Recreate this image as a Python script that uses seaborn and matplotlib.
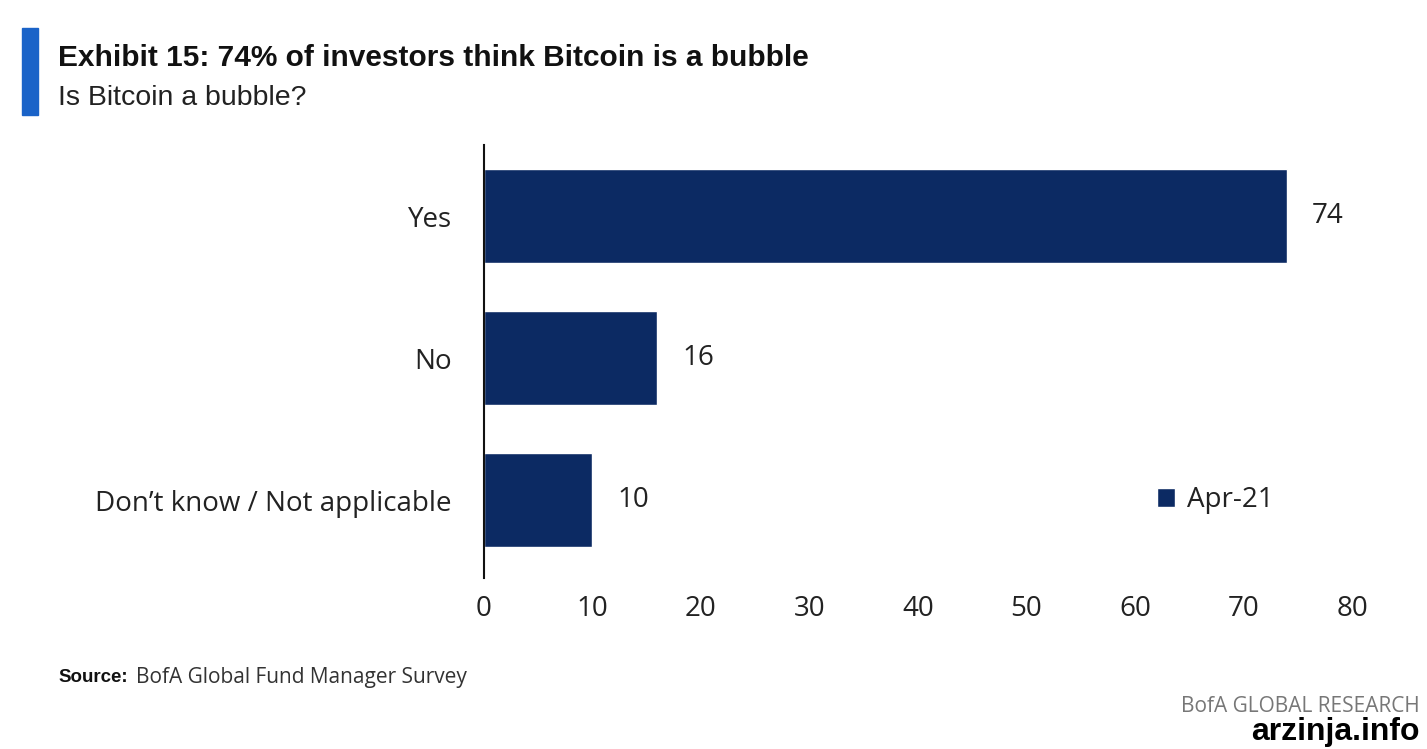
import pandas as pd
import numpy as np
import matplotlib
matplotlib.use('Agg')
import matplotlib.pyplot as plt
import seaborn as sns
from matplotlib.patches import Rectangle

categories = ['Yes', 'No', 'Don\u2019t know / Not applicable']
values = [74, 16, 10]
series_name = 'Apr-21'
x_ticks = [0, 10, 20, 30, 40, 50, 60, 70, 80]

navy = '#0c2a63'

df = pd.DataFrame({'answer': categories, 'pct': values, 'period': series_name})

sns.set_style('white')
plt.rcParams['font.family'] = ['Open Sans', 'DejaVu Sans']

fig = plt.figure(figsize=(14.27, 7.49), dpi=100)
ax = fig.add_axes([0.339, 0.228, 0.6085, 0.578])

sns.barplot(data=df, y='answer', x='pct', hue='period', palette=[navy],
            width=0.66, ax=ax, orient='h', saturation=1)

# value labels right of bars
for c in ax.containers:
    ax.bar_label(c, fmt='%d', padding=18, fontsize=20, color='#222222')

ax.set_xlim(0, 80)
ax.set_ylim(2.55, -0.5)
ax.set_xticks(x_ticks)
ax.tick_params(axis='x', labelsize=20, colors='#222222', length=0, pad=12)
ax.tick_params(axis='y', labelsize=20, colors='#222222', length=0, pad=23)
ax.set_xlabel('')
ax.set_ylabel('')
for s in ['top', 'right', 'bottom']:
    ax.spines[s].set_visible(False)
ax.spines['left'].set_color('#111111')
ax.spines['left'].set_linewidth(1.5)

leg = ax.legend(loc='lower left', bbox_to_anchor=(0.747, 0.09), frameon=False,
                fontsize=20, handlelength=0.65, handleheight=0.65, handletextpad=0.4)
for t in leg.get_texts():
    t.set_color('#222222')

# header
fig.patches.append(Rectangle((22 / 1427, 1 - 115 / 749), 16 / 1427, 87 / 749,
                             transform=fig.transFigure, color='#1a63c8', figure=fig))
fig.text(58 / 1427, 1 - 58 / 749, 'Exhibit 15: 74% of investors think Bitcoin is a bubble',
         fontsize=21.5, fontweight='bold', va='center', ha='left',
         family=['Liberation Sans', 'DejaVu Sans'], color='#111111')
fig.text(58 / 1427, 1 - 98 / 749, 'Is Bitcoin a bubble?', fontsize=20.5, va='center',
         ha='left', family=['Liberation Sans', 'DejaVu Sans'], color='#222222')

# footer
fig.text(58 / 1427, 1 - 677 / 749, 'Source:', fontsize=13.5, fontweight='bold',
         va='center', ha='left', family=['Liberation Sans', 'DejaVu Sans'], color='#111111')
fig.text(136 / 1427, 1 - 677 / 749, 'BofA Global Fund Manager Survey', fontsize=15,
         va='center', ha='left', color='#333333')
fig.text(1420 / 1427, 1 - 707 / 749, 'BofA GLOBAL RESEARCH', fontsize=15,
         va='center', ha='right', color='#777777')
fig.text(1420 / 1427, 1 - 732 / 749, 'arzinja.info', fontsize=23, fontweight='bold',
         va='center', ha='right', family=['Liberation Sans', 'DejaVu Sans'], color='#000000')

fig.savefig('out.png', dpi=100, facecolor='white')
